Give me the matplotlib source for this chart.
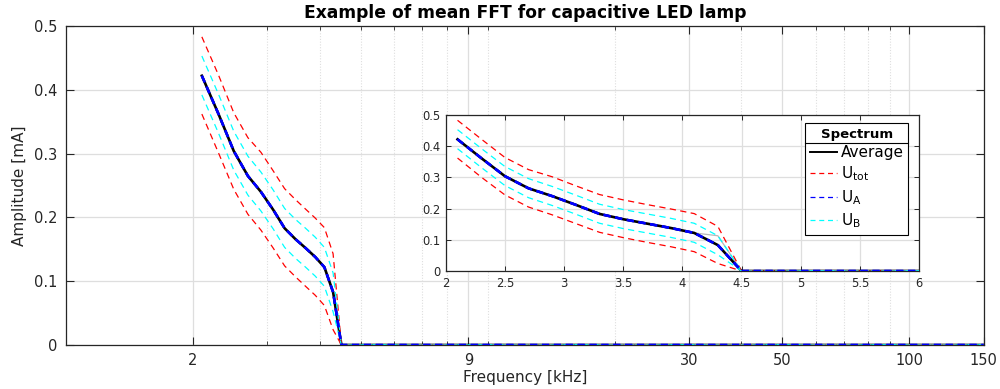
import matplotlib
matplotlib.use("Agg")
import matplotlib.pyplot as plt
from matplotlib.lines import Line2D
from matplotlib.ticker import FixedLocator, FixedFormatter, LogLocator, NullFormatter

plt.rcParams["font.family"] = ["DejaVu Sans"]
plt.rcParams["mathtext.default"] = "regular"

# Spectrum bins [kHz] and amplitudes [mA]
freq_khz = [2.1, 2.3, 2.5, 2.7, 2.9, 3.1, 3.3, 3.5, 3.7, 3.9, 4.1, 4.3, 4.5, 150.0]
average = [0.422, 0.362, 0.304, 0.265, 0.240, 0.212, 0.183, 0.166, 0.152, 0.138, 0.122, 0.083, 0.0, 0.0]
utot_upper = [0.483, 0.423, 0.364, 0.325, 0.302, 0.273, 0.245, 0.228, 0.213, 0.199, 0.184, 0.143, 0.0, 0.0]
utot_lower = [0.362, 0.301, 0.244, 0.205, 0.180, 0.152, 0.124, 0.107, 0.092, 0.078, 0.062, 0.024, 0.0, 0.0]
ua_upper = [0.422, 0.362, 0.304, 0.265, 0.240, 0.212, 0.183, 0.166, 0.152, 0.138, 0.122, 0.083, 0.0, 0.0]
ua_lower = [0.422, 0.362, 0.304, 0.265, 0.240, 0.212, 0.183, 0.166, 0.152, 0.138, 0.122, 0.083, 0.0, 0.0]
ub_upper = [0.453, 0.393, 0.335, 0.296, 0.271, 0.243, 0.214, 0.197, 0.183, 0.169, 0.153, 0.113, 0.0, 0.0]
ub_lower = [0.392, 0.332, 0.274, 0.235, 0.210, 0.182, 0.153, 0.136, 0.122, 0.108, 0.092, 0.052, 0.0, 0.0]

# Faint trace in the zoomed view near the roll-off
trace_khz = [4.1, 4.3, 4.5]
trace_amp = [0.122, 0.113, 0.0]

main_ticks = [2, 9, 30, 50, 100, 150]
main_ticklabels = ["2", "9", "30", "50", "100", "150"]
y_ticks = [0, 0.1, 0.2, 0.3, 0.4, 0.5]
y_ticklabels = ["0", "0.1", "0.2", "0.3", "0.4", "0.5"]
inset_xticks = [2, 2.5, 3, 3.5, 4, 4.5, 5, 5.5, 6]
inset_xticklabels = ["2", "2.5", "3", "3.5", "4", "4.5", "5", "5.5", "6"]

AX_COLOR = "#262626"
GRID_COLOR = "#dedede"
RED = "#ff0000"
BLUE = "#0000ff"
CYAN = "#00ffff"
DASH = (5, 3.5)


def draw_series(ax, dash_lw=0.9, avg_lw=1.9):
    ax.plot(freq_khz, average, color="k", lw=avg_lw, zorder=3)
    ax.plot(freq_khz, utot_upper, color=RED, lw=dash_lw, dashes=DASH, zorder=4)
    ax.plot(freq_khz, utot_lower, color=RED, lw=dash_lw, dashes=DASH, zorder=4)
    ax.plot(freq_khz, ua_upper, color=BLUE, lw=avg_lw * 0.9, dashes=(3, 2), zorder=5)
    ax.plot(freq_khz, ua_lower, color=BLUE, lw=avg_lw * 0.9, dashes=(3, 2), zorder=5)
    ax.plot(freq_khz, ub_upper, color=CYAN, lw=dash_lw, dashes=DASH, zorder=4)
    ax.plot(freq_khz, ub_lower, color=CYAN, lw=dash_lw, dashes=DASH, zorder=4)


fig = plt.figure(figsize=(10, 3.89), dpi=100)

# ---- main axes (log frequency) ----
ax = fig.add_axes([0.066, 44 / 389, 0.9175, 319 / 389])
draw_series(ax)
ax.set_xscale("log")
ax.set_xlim(1, 150)
ax.set_ylim(0, 0.5)
ax.xaxis.set_major_locator(FixedLocator(main_ticks))
ax.xaxis.set_major_formatter(FixedFormatter(main_ticklabels))
ax.xaxis.set_minor_locator(LogLocator(base=10, subs=range(1, 10), numticks=20))
ax.xaxis.set_minor_formatter(NullFormatter())
ax.yaxis.set_major_locator(FixedLocator(y_ticks))
ax.yaxis.set_major_formatter(FixedFormatter(y_ticklabels))
ax.grid(True, which="major", axis="both", color=GRID_COLOR, lw=0.9, zorder=0)
ax.grid(True, which="minor", axis="x", color=GRID_COLOR, lw=0.8, ls=(0, (1, 1.5)), zorder=0)
ax.set_axisbelow(True)
ax.tick_params(which="major", direction="in", length=5.5, width=0.8, top=True, right=True,
               colors=AX_COLOR, labelsize=10.5, pad=6)
ax.tick_params(which="minor", direction="in", length=3, width=0.6, top=True, right=True,
               colors=AX_COLOR)
for sp in ax.spines.values():
    sp.set_color(AX_COLOR)
    sp.set_linewidth(0.9)
ax.set_xlabel("Frequency [kHz]", fontsize=11, color=AX_COLOR, labelpad=1)
ax.set_ylabel("Amplitude [mA]", fontsize=11, color=AX_COLOR, labelpad=5)
ax.set_title("Example of mean FFT for capacitive LED lamp", fontsize=12.3, fontweight="bold", pad=6)

# ---- zoomed axes (linear frequency) ----
axin = fig.add_axes([0.4457, (389 - 271) / 389, 0.4733, 156 / 389])
axin.set_facecolor("white")
axin.plot(trace_khz, trace_amp, color="#b8b8b8", lw=0.9, zorder=2)
draw_series(axin, dash_lw=0.9, avg_lw=1.9)
axin.set_xlim(2, 6)
axin.set_ylim(0, 0.5)
axin.xaxis.set_major_locator(FixedLocator(inset_xticks))
axin.xaxis.set_major_formatter(FixedFormatter(inset_xticklabels))
axin.yaxis.set_major_locator(FixedLocator(y_ticks))
axin.yaxis.set_major_formatter(FixedFormatter(y_ticklabels))
axin.grid(True, which="major", color=GRID_COLOR, lw=0.9, zorder=0)
axin.set_axisbelow(True)
axin.tick_params(direction="in", length=3.5, width=0.7, top=True, right=True,
                 colors=AX_COLOR, labelsize=8.3, pad=4)
for sp in axin.spines.values():
    sp.set_color(AX_COLOR)
    sp.set_linewidth(0.9)

handles = [
    Line2D([], [], color="k", lw=1.4),
    Line2D([], [], color=RED, lw=0.9, dashes=(4, 3)),
    Line2D([], [], color=BLUE, lw=0.9, dashes=(4, 3)),
    Line2D([], [], color=CYAN, lw=0.9, dashes=(4, 3)),
]
labels = ["Average", "U$_{tot}$", "U$_{A}$", "U$_{B}$"]
leg = axin.legend(handles, labels, title="Spectrum", loc="upper right",
                  bbox_to_anchor=(0.977, 0.949), borderaxespad=0, fontsize=11,
                  title_fontproperties={"weight": "bold", "size": 9.5},
                  handlelength=1.8, handletextpad=0.2, labelspacing=0.3,
                  borderpad=0.3, fancybox=False, framealpha=1, edgecolor="k")
leg.get_frame().set_linewidth(0.8)
leg.set_zorder(10)

# separator line under the legend title
fig.canvas.draw()
inv = fig.transFigure.inverted()
fb = leg.get_frame().get_window_extent()
tb = leg.get_title().get_window_extent()
y_sep = tb.y0 - 2
(x0, ys), (x1, _) = inv.transform([(fb.x0, y_sep), (fb.x1, y_sep)])
fig.add_artist(Line2D([x0, x1], [ys, ys], color="k", lw=0.8, zorder=20))

fig.savefig("out.png", dpi=100)
